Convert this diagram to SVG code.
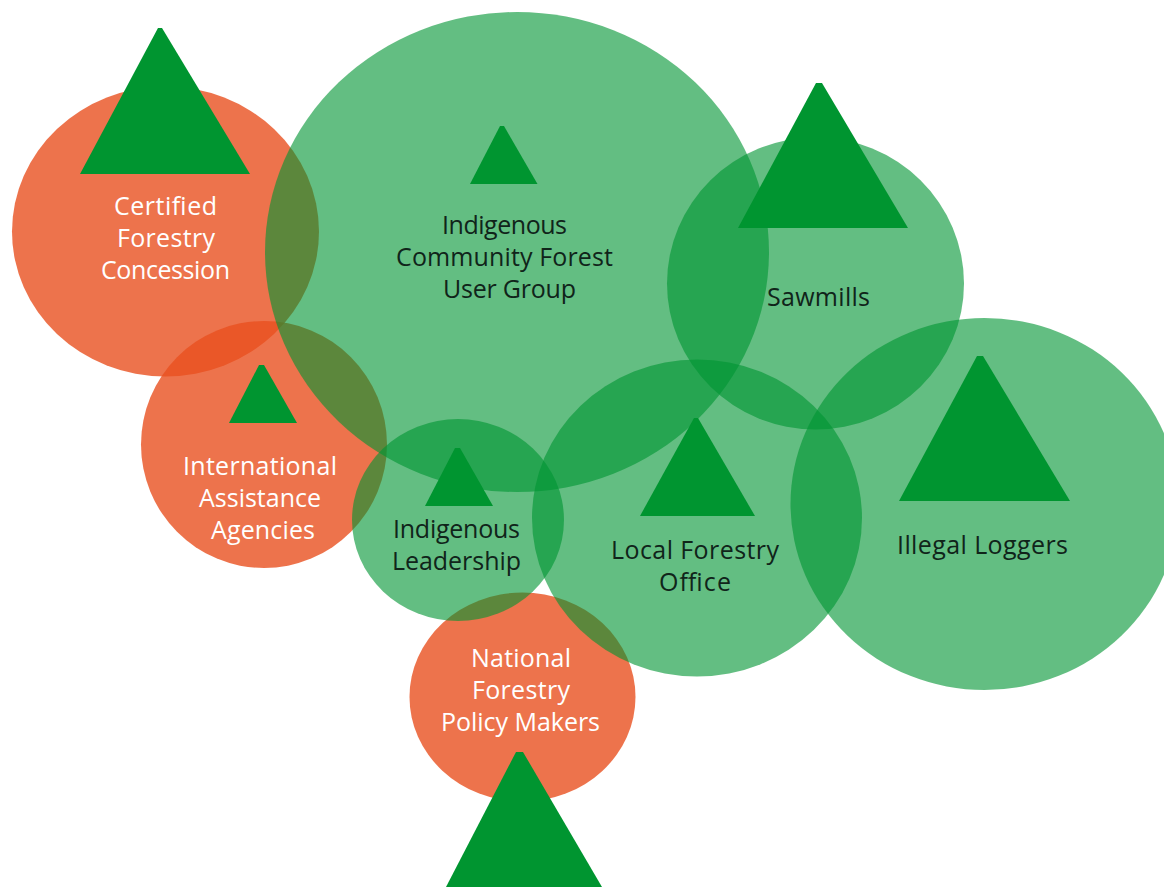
<svg xmlns="http://www.w3.org/2000/svg" width="1164" height="887" viewBox="0 0 1164 887">
<style>
.o{fill:#e9501f;fill-opacity:.8}
.g{fill:#009432;fill-opacity:.61}
.t{fill:#009530}
text{font-family:"Open Sans","Noto Sans",sans-serif;font-size:25px;text-anchor:middle}
.w{fill:#fff}
.k{fill:#10241a}
</style>
<rect width="1164" height="887" fill="#fff"/>
<g id="certified"><ellipse class="o" cx="165.500" cy="231.500" rx="153.500" ry="145"/><polygon class="t" points="158,28 162,28 250,174 80,174"/>
<text class="w" x="165.500" y="215" textLength="103">Certified</text><text class="w" x="166" y="247" textLength="98">Forestry</text><text class="w" x="165.500" y="279" textLength="129">Concession</text></g>
<g id="international"><ellipse class="o" cx="264" cy="444.500" rx="123" ry="123.500"/><polygon class="t" points="259,365 264,365 297,423 229,423"/>
<text class="w" x="260" y="475" textLength="154">International</text><text class="w" x="260" y="507" textLength="122">Assistance</text><text class="w" x="263" y="539" textLength="104">Agencies</text></g>
<g id="national"><ellipse class="o" cx="522.500" cy="697" rx="113" ry="104.500"/><polygon class="t" points="516,752 523,752 602,887 446,887"/>
<text class="w" x="521" y="667" textLength="100">National</text><text class="w" x="521" y="699" textLength="98">Forestry</text><text class="w" x="520.500" y="731" textLength="159">Policy Makers</text></g>
<g id="community"><ellipse class="g" cx="517" cy="252" rx="252" ry="240"/><polygon class="t" points="500,126 504,126 537.500,184 470,184"/>
<text class="k" x="504.500" y="234" textLength="125">Indigenous</text><text class="k" x="504.500" y="266" textLength="217">Community Forest</text><text class="k" x="509.500" y="298" textLength="133">User Group</text></g>
<g id="sawmills"><ellipse class="g" cx="815.500" cy="283.500" rx="148.500" ry="146"/><polygon class="t" points="816,83 822,83 908,228 738,228"/>
<text class="k" x="818.500" y="306" textLength="103">Sawmills</text></g>
<g id="leadership"><ellipse class="g" cx="458" cy="520" rx="106" ry="101"/><polygon class="t" points="455,448 460,448 493,506 425,506"/>
<text class="k" x="456.500" y="538" textLength="127">Indigenous</text><text class="k" x="456.500" y="570" textLength="129">Leadership</text></g>
<g id="local"><ellipse class="g" cx="697" cy="518" rx="165" ry="158.500"/><polygon class="t" points="694,418 698,418 755,516 640,516"/>
<text class="k" x="695" y="559" textLength="168">Local Forestry</text><text class="k" x="695" y="591" textLength="72">Office</text></g>
<g id="illegal"><ellipse class="g" cx="984.500" cy="504" rx="194" ry="186"/><polygon class="t" points="977,356 983,356 1070,501 899,501"/>
<text class="k" x="982.500" y="554" textLength="171">Illegal Loggers</text></g>
<g id="connectors"/>
</svg>
